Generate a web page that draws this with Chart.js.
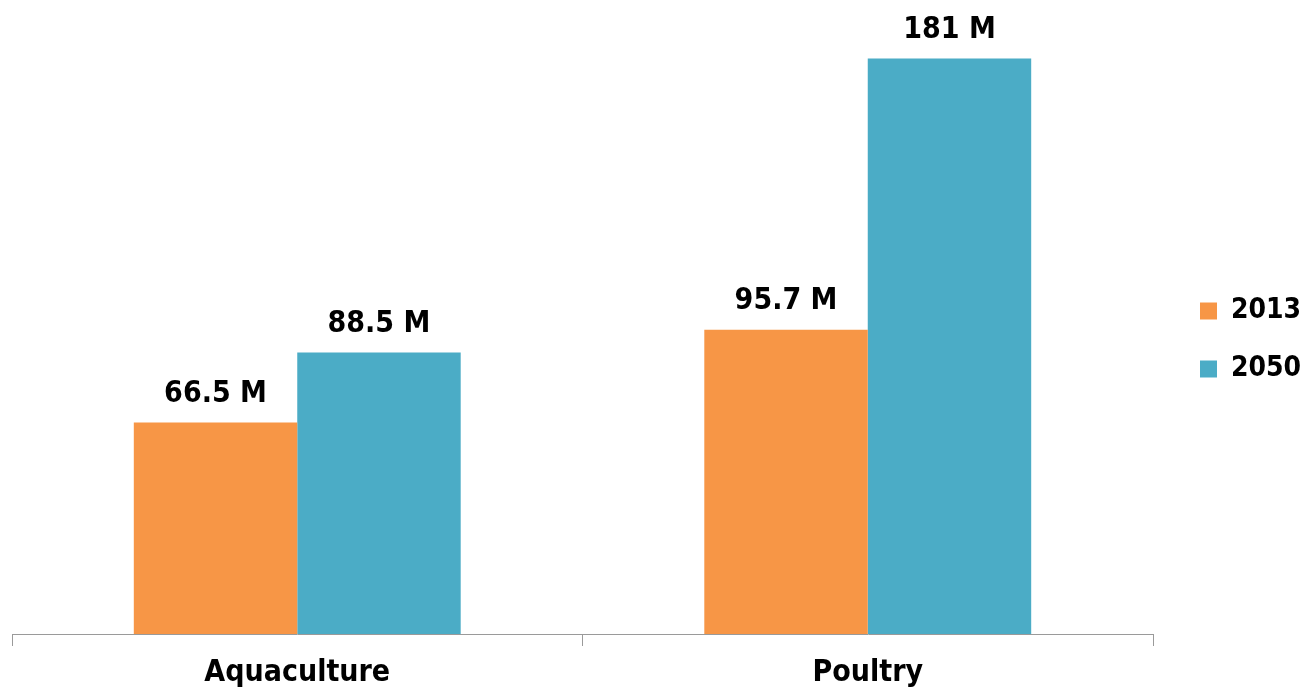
<!DOCTYPE html>
<html>
<head>
<meta charset="utf-8">
<script src="https://cdn.jsdelivr.net/npm/chart.js@4"></script>
<style>
  html, body { margin: 0; padding: 0; background: #fff; overflow: hidden; }
  #box { width: 1306px; height: 690px; position: relative; }
</style>
</head>
<body>
<div id="box"><canvas id="grafico"></canvas></div>
<script>
const categorie = ['Aquaculture', 'Poultry'];
const anni = ['2013', '2050'];
const valori2013 = [66.5, 95.7];
const valori2050 = [88.5, 181];
const colori = ['#F79646', '#4BACC6'];

const FONT = '"DejaVu Sans Condensed", "Liberation Sans Narrow", sans-serif';

// etichette sopra le barre
const etichette = {
    id: 'etichette',
    afterDatasetsDraw(chart) {
        const ctx = chart.ctx;
        ctx.save();
        ctx.font = 'bold 30px ' + FONT;
        ctx.fillStyle = '#000';
        ctx.textAlign = 'center';
        ctx.textBaseline = 'alphabetic';
        chart.data.datasets.forEach((ds, i) => {
            chart.getDatasetMeta(i).data.forEach((bar, j) => {
                ctx.fillText(ds.data[j] + ' M', bar.x, bar.y - 21);
            });
        });
        ctx.restore();
    }
};

// legenda: larghezza fissa e spostata un po' a destra / in alto
const spostaLegenda = {
    id: 'spostaLegenda',
    beforeLayout(chart) {
        const lg = chart.legend;
        if (lg && !lg._fitOrig) {
            lg._fitOrig = lg.fit;
            lg.fit = function () { this._fitOrig(); this.width = 153; };
        }
    },
    afterLayout(chart) {
        const lg = chart.legend;
        lg.left += 17;
        lg.top -= 12;
        lg.bottom -= 12;
    }
};

new Chart(document.getElementById('grafico'), {
    type: 'bar',
    data: {
        labels: categorie,
        datasets: [
            { label: anni[0], data: valori2013, backgroundColor: colori[0] },
            { label: anni[1], data: valori2050, backgroundColor: colori[1] }
        ]
    },
    options: {
        responsive: true,
        maintainAspectRatio: false,
        animation: false,
        datasets: { bar: { categoryPercentage: 0.573, barPercentage: 1.0 } },
        layout: { padding: { top: 14, left: 12, right: 0, bottom: 0 } },
        scales: {
            x: {
                grid: { display: true, drawOnChartArea: false, tickLength: 12, color: '#9a9a9a' },
                border: { display: true, color: '#9a9a9a', width: 1 },
                ticks: { color: '#000', font: { family: FONT, size: 30, weight: 'bold' }, padding: 9 },
                afterFit(scale) { scale.height = 56; }
            },
            y: { display: false, min: 0, max: 195 }
        },
        plugins: {
            tooltip: { enabled: false },
            legend: {
                position: 'right',
                labels: {
                    boxWidth: 17, boxHeight: 17, padding: 30,
                    color: '#000',
                    font: { family: FONT, size: 28, weight: 'bold' }
                }
            }
        }
    },
    plugins: [etichette, spostaLegenda]
});
</script>
</body>
</html>
